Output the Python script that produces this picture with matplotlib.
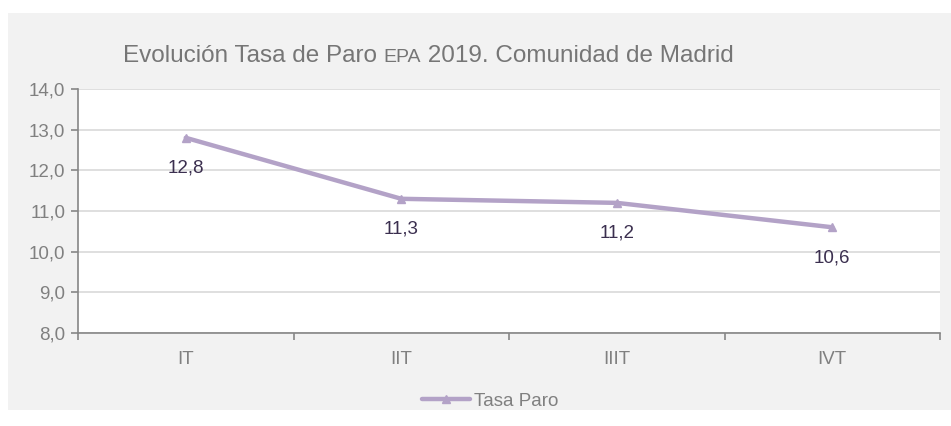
import matplotlib
matplotlib.use("Agg")
import matplotlib.pyplot as plt
from matplotlib.patches import Rectangle
from matplotlib.ticker import FixedLocator, NullFormatter, FuncFormatter
from matplotlib.offsetbox import TextArea, HPacker, AnchoredOffsetbox

categories = ["IT", "IIT", "IIIT", "IVT"]
values = [12.8, 11.3, 11.2, 10.6]
series_name = "Tasa Paro"
yticks = [8.0, 9.0, 10.0, 11.0, 12.0, 13.0, 14.0]

plt.rcParams['font.family'] = ['Liberation Sans', 'DejaVu Sans']

W, H = 951, 426
fig = plt.figure(figsize=(W / 100, H / 100), dpi=100)
fig.patch.set_facecolor("white")
bg = Rectangle((8 / W, 1 - 410 / H), (W - 8) / W, (410 - 13) / H,
               transform=fig.transFigure, facecolor="#f2f2f2",
               edgecolor="none", zorder=-10)
fig.patches.append(bg)

ax = fig.add_axes([78 / W, 1 - 333 / H, (940 - 78) / W, (333 - 89) / H])
ax.set_zorder(1)
ax.set_facecolor("white")
x = list(range(len(categories)))
line, = ax.plot(x, values, color="#b3a2c7", lw=3.2, marker="^", ms=6,
                solid_capstyle="round", label=series_name, zorder=3)

for xi, v in zip(x, values):
    ax.annotate(f"{v:.1f}".replace(".", ","), (xi, v), xytext=(0, -22),
                textcoords="offset points", ha="center", va="center",
                fontsize=13.5, color="#3b2f4f")

ax.set_xlim(-0.5, len(categories) - 0.5)
ax.set_ylim(8, 14)
ax.set_yticks(yticks)
ax.yaxis.set_major_formatter(FuncFormatter(lambda v, p: f"{v:.1f}".replace(".", ",")))
ax.grid(axis="y", color="#d9d9d9", lw=1.2)
ax.set_axisbelow(True)

ax.set_xticks(x)
ax.set_xticklabels(categories)
ax.xaxis.set_minor_locator(FixedLocator([i - 0.5 for i in range(len(categories) + 1)]))
ax.xaxis.set_minor_formatter(NullFormatter())
ax.tick_params(axis="x", which="major", length=0, pad=13, labelsize=13.5, labelcolor="#808080")
ax.tick_params(axis="x", which="minor", length=5, direction="out", color="#868686", width=1.2)
ax.tick_params(axis="y", length=5, direction="out", color="#868686", width=1.2,
               labelsize=13.5, labelcolor="#808080", pad=4)

for s in ["top", "right"]:
    ax.spines[s].set_visible(False)
for s in ["left", "bottom"]:
    ax.spines[s].set_color("#868686")
    ax.spines[s].set_linewidth(1.2)

tc = "#767676"
t1 = TextArea("Evolución Tasa de Paro ", textprops=dict(fontsize=17.5, color=tc))
t2 = TextArea("EPA", textprops=dict(fontsize=14, color=tc))
t3 = TextArea(" 2019. Comunidad de Madrid", textprops=dict(fontsize=17.5, color=tc))
box = HPacker(children=[t1, t2, t3], align="baseline", pad=0, sep=0)
ab = AnchoredOffsetbox(loc="center left", child=box, pad=0, frameon=False,
                       bbox_to_anchor=(123 / W, 1 - 56 / H), bbox_transform=fig.transFigure,
                       borderpad=0)
fig.add_artist(ab)

leg = fig.legend(handles=[line], loc="center", bbox_to_anchor=(490 / W, 1 - 401 / H),
                 frameon=False, fontsize=13.5, handlelength=2.6, handletextpad=0.2,
                 labelcolor="#808080")

fig.savefig("out.png", dpi=100, facecolor="white")
